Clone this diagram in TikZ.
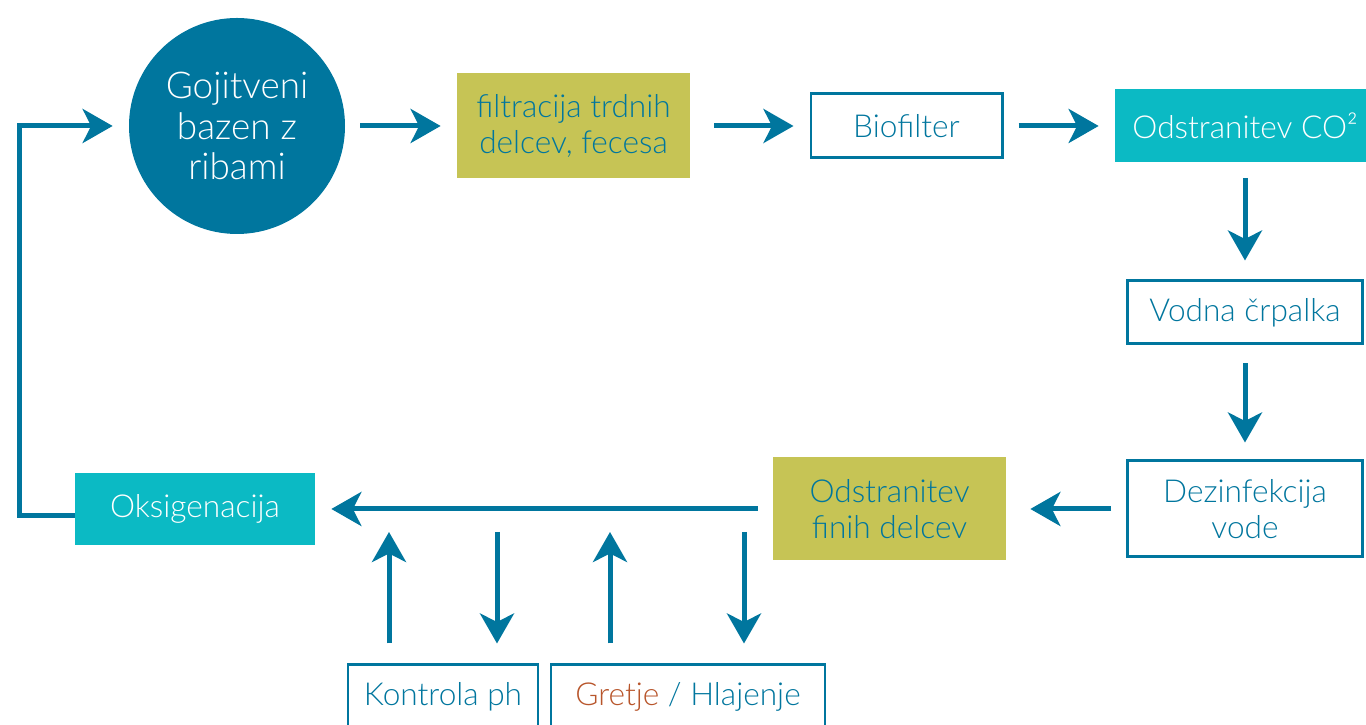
\documentclass[tikz,border=0pt]{standalone}
\usepackage{fontspec}
\setmainfont{Lato Light}
\usetikzlibrary{arrows.meta}
\definecolor{tealblue}{HTML}{00769E}
\definecolor{cyanbox}{HTML}{0BBAC4}
\definecolor{olivebox}{HTML}{C6C455}
\definecolor{rust}{HTML}{B8552B}

\begin{document}
\begin{tikzpicture}
    \tikzstyle{every node}=[inner sep=0pt,align=center,
                            font=\fontsize{18}{20.5}\selectfont]
    \tikzstyle{frame}=[draw=tealblue,line width=1.7pt,fill=white,text=tealblue]
    \tikzstyle{olive}=[fill=olivebox,text=tealblue]
    \tikzstyle{cyan}=[fill=cyanbox,text=white]
    \tikzstyle{arr}=[draw=tealblue,line width=0.1cm,
                     -{Stealth[length=0.6cm,width=0.68cm,inset=0.17cm]},
                     shorten <=0.3cm,shorten >=0.32cm]

      \useasboundingbox (0,0) rectangle (27.32,14.5);
      \clip (0,0) rectangle (27.32,14.5);

      \node (0) [circle,fill=tealblue,text=white,minimum size=4.32cm,
                 font=\fontsize{21}{23}\selectfont]
            at (4.74,11.98) {Gojitveni\\bazen z\\ribami};
      \node (1) [olive,minimum width=4.66cm,minimum height=2.1cm]
            at (11.47,11.98) {filtracija trdnih\\delcev, fecesa};
      \node (2) [frame,minimum width=3.82cm,minimum height=1.28cm]
            at (18.13,11.98) {Biofilter};
      \node (3) [cyan,minimum width=5.2cm,minimum height=1.46cm]
            at (24.9,11.98) {Odstranitev CO²};
      \node (4) [frame,minimum width=4.7cm,minimum height=1.26cm]
            at (24.9,8.25) {Vodna črpalka};
      \node (5) [frame,minimum width=4.7cm,minimum height=1.92cm]
            at (24.9,4.32) {Dezinfekcija\\vode};
      \node (6) [olive,minimum width=4.66cm,minimum height=2.06cm]
            at (17.79,4.32) {Odstranitev\\finih delcev};
      \node (7) [cyan,minimum width=4.8cm,minimum height=1.44cm]
            at (3.9,4.32) {Oksigenacija};
      \node (8) [frame,minimum width=3.8cm,minimum height=1.28cm]
            at (8.86,0.56) {Kontrola ph};
      \node (9) [frame,minimum width=5.48cm,minimum height=1.28cm]
            at (13.76,0.56) {\textcolor{rust}{Gretje} / Hlajenje};

      % points on the return line
      \coordinate (a) at (7.78,4.32);
      \coordinate (b) at (9.94,4.32);
      \coordinate (c) at (12.2,4.32);
      \coordinate (d) at (14.88,4.32);

      \draw[arr] (0) -- (1);
      \draw[arr,shorten <=0.48cm] (1) -- (2);
      \draw[arr] (2) -- (3);
      \draw[arr,shorten >=0.38cm] (3) -- (4);
      \draw[arr,shorten <=0.36cm,shorten >=0.34cm] (4) -- (5);
      \draw[arr,shorten >=0.48cm] (5) -- (6);
      \draw[arr] (6) -- (7);
      \draw[arr,shorten <=0pt] ([yshift=-0.14cm]7.west) -- ++(-1.1,0) |- (0);

      \draw[arr,shorten <=0.4cm,shorten >=0.46cm] (8.north -| a) -- (a);
      \draw[arr,shorten <=0.46cm,shorten >=0.4cm] (b) -- (8.north -| b);
      \draw[arr,shorten <=0.4cm,shorten >=0.46cm] (9.north -| c) -- (c);
      \draw[arr,shorten <=0.46cm,shorten >=0.4cm] (d) -- (9.north -| d);
    \end{tikzpicture}
\end{document}
